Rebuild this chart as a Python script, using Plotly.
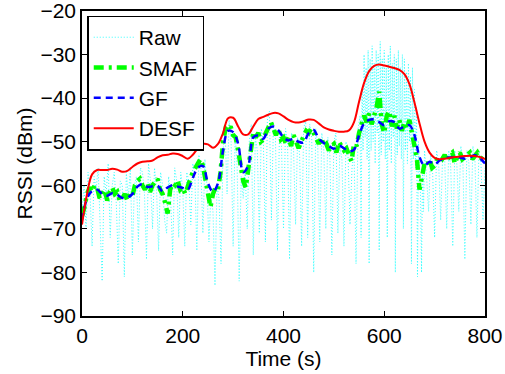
import plotly.graph_objects as go

# ---- data ----
desf_t = list(range(0, 801, 10))
desf = [-69, -62, -57.5, -56.5, -56.5, -56.5, -56.2, -56.4, -56.9, -56.7,
        -55.8, -55.0, -54.6, -54.5, -54.3, -53.6, -53.1, -53.0, -52.7, -52.8,
        -53.3, -53.9, -53.0, -51.5, -50.5, -50.6, -51.4, -50.5, -48.0, -44.6,
        -44.5, -46.5, -48.3, -48.3, -46.5, -44.8, -44.3, -43.8, -43.4, -43.5,
        -44.2, -45.0, -45.5, -45.6, -45.3, -44.9, -45.0, -45.8, -46.7, -47.2,
        -47.5, -47.7, -47.7, -47.4, -45.5, -40.8, -36.5, -33.8, -32.6, -32.3,
        -32.5, -32.8, -33.1, -33.5, -34.5, -36.8, -41.0, -45.8, -50.0, -52.5,
        -53.7, -54.0, -53.9, -53.7, -53.5, -53.4, -53.3, -53.2, -53.3, -53.5,
        -54.0]

gf_t = list(range(0, 801, 10))
gf = [-68, -63, -61.3, -61.0, -62.0, -62.4, -61.8, -62.2, -62.9, -62.8,
      -62.0, -60.3, -59.7, -60.4, -60.2, -60.1, -61.4, -60.5, -60.0, -60.3,
      -60.6, -61.0, -58.3, -56.0, -55.6, -59.5, -61.5, -59.5, -52.0, -47.5,
      -47.8, -50.5, -57.0, -55.5, -49.0, -48.6, -49.3, -47.0, -46.5, -47.4,
      -49.0, -49.7, -49.3, -50.0, -50.2, -48.0, -47.3, -49.3, -50.3, -51.0,
      -51.6, -50.9, -51.5, -52.2, -51.8, -48.5, -45.8, -45.0, -44.9, -45.5,
      -46.2, -45.3, -45.5, -47.0, -46.5, -46.2, -48.5, -53.5, -55.5, -54.6,
      -55.2, -54.3, -53.8, -53.6, -53.5, -53.6, -53.9, -53.6, -53.1, -53.8,
      -55.0]

smaf_t = list(range(0, 801, 5))
smaf = [-67, -65, -62, -60.5, -61.5, -60, -60.5, -63, -62, -61,
        -63.5, -61.5, -60.5, -62, -61.5, -63.5, -63, -62, -63.5, -62,
        -62.5, -60, -59, -58.5, -60, -61, -59.5, -61.5, -60, -59,
        -58.5, -61, -62, -64, -66.5, -61, -59.5, -60, -59, -61,
        -60.5, -62, -60, -58.5, -57, -56, -55, -54, -55.5, -59,
        -63, -65, -62, -60.5, -61, -57, -50, -47, -47.5, -46.5,
        -48.5, -49, -52, -56, -59, -60.5, -56, -51, -48, -49,
        -48, -50, -49.5, -48, -46.5, -45.5, -47, -48.5, -47, -49.5,
        -49, -50.5, -49, -51, -48.5, -50, -51.5, -50, -48.5, -47.5,
        -48, -47, -48, -49, -50.5, -49, -51, -50.5, -52, -51,
        -50.5, -52.5, -50, -51, -52, -51.5, -53, -54.5, -50.5, -51,
        -48, -46, -44, -45.5, -43.5, -46, -44, -42, -38.5, -46,
        -48, -44, -43, -46.5, -44, -47, -45, -47.5, -45.5, -47,
        -45, -48, -51, -54, -61, -58, -55, -55.5, -54, -56,
        -55.5, -54, -53.5, -54, -53, -54.5, -53, -52.5, -55, -53.5,
        -52.5, -54, -53.5, -53, -52.5, -54, -53, -52.5, -53.5, -54,
        -55]

# Raw samples: every 4 s, except every 2 s in the dense 552-680 s burst
raw_t_a = list(range(0, 549, 4))
raw_a = [-66, -60, -70, -57, -62, -74, -58, -61, -56, -68,
         -82, -58, -62, -55, -72, -60, -57, -64, -78, -59,
         -60, -81, -57, -63, -56, -76, -60, -58, -73, -56,
         -57, -62, -77, -55, -59, -70, -56, -61, -75, -57,
         -60, -68, -71, -58, -63, -76, -56, -59, -72, -57,
         -61, -74, -57, -59, -69, -55, -58, -75, -53, -56,
         -71, -54, -60, -73, -62, -66, -83, -60, -63, -78,
         -52, -47, -62, -45, -50, -74, -48, -56, -82, -58,
         -63, -57, -70, -50, -46, -76, -49, -52, -71, -47,
         -50, -73, -45, -43, -68, -46, -49, -75, -48, -51,
         -70, -47, -50, -77, -48, -52, -69, -49, -53, -74,
         -47, -45, -72, -46, -49, -80, -47, -51, -73, -48,
         -52, -70, -49, -53, -76, -50, -48, -71, -51, -54,
         -74, -50, -53, -69, -56, -52, -78, -47]
raw_t_b = list(range(552, 681, 2))
raw_b = [-44, -72, -38, -52, -30, -49, -33, -54, -29, -78,
         -31, -52, -28, -50, -32, -55, -29, -48, -30, -75,
         -27, -53, -31, -50, -29, -54, -33, -72, -30, -52,
         -28, -55, -32, -49, -30, -80, -31, -53, -29, -51,
         -33, -54, -30, -70, -31, -52, -34, -55, -32, -50,
         -35, -78, -33, -54, -38, -56, -42, -81, -50, -58,
         -62, -80, -56, -66, -52]
raw_t_c = list(range(684, 801, 4))
raw_c = [-58, -66, -53, -57, -72, -52, -55, -68, -53,
         -54, -70, -52, -56, -74, -52, -55, -66, -51, -54,
         -77, -52, -55, -69, -51, -54, -72, -52, -55, -68,
         -56]
raw_t = raw_t_a + raw_t_b + raw_t_c
raw = raw_a + raw_b + raw_c

x_ticks = [0, 200, 400, 600, 800]
y_ticks = [-90, -80, -70, -60, -50, -40, -30, -20]

FONT = "Liberation Sans, Arial, Helvetica, sans-serif"
FS = 21

fig = go.Figure()
fig.add_trace(go.Scatter(x=raw_t, y=raw, mode="lines", name="Raw",
                         line=dict(color="#33FFFF", width=1, dash="1px,2px")))
fig.add_trace(go.Scatter(x=smaf_t, y=smaf, mode="lines", name="SMAF",
                         line=dict(color="#00FF00", width=4.5, dash="10px,5px,3px,5px")))
fig.add_trace(go.Scatter(x=gf_t, y=gf, mode="lines", name="GF",
                         line=dict(color="#0000FF", width=2.5, dash="7px,5px", shape="spline")))
fig.add_trace(go.Scatter(x=desf_t, y=desf, mode="lines", name="DESF",
                         line=dict(color="#FF0000", width=2, shape="spline")))

fig.update_layout(
    width=505, height=374,
    margin=dict(l=82, r=20, t=11, b=58, autoexpand=False),
    paper_bgcolor="white", plot_bgcolor="white",
    font=dict(family=FONT, size=FS, color="black"),
    showlegend=True,
    legend=dict(x=0.013, y=0.985, xanchor="left", yanchor="top",
                bgcolor="white", bordercolor="black", borderwidth=1.5,
                font=dict(size=FS), tracegroupgap=0, itemwidth=40),
)
fig.update_xaxes(range=[0, 800], tickvals=x_ticks, showgrid=False, zeroline=False,
                 showline=True, linecolor="black", linewidth=1.5, mirror="ticks",
                 ticks="inside", ticklen=5, tickcolor="black", automargin=False,
                 ticklabeloverflow="allow",
                 title=dict(text="Time (s)", standoff=0, font=dict(size=FS)))
fig.update_yaxes(range=[-90, -20], tickvals=y_ticks, showgrid=False, zeroline=False,
                 showline=True, linecolor="black", linewidth=1.5, mirror="ticks",
                 ticks="inside", ticklen=5, tickcolor="black", automargin=False,
                 ticklabeloverflow="allow",
                 title=dict(text="RSSI (dBm)", standoff=2, font=dict(size=FS)))

fig.write_html("out.html", config={"displayModeBar": False},
               post_script="document.body.style.margin='0';document.body.style.padding='0';")
